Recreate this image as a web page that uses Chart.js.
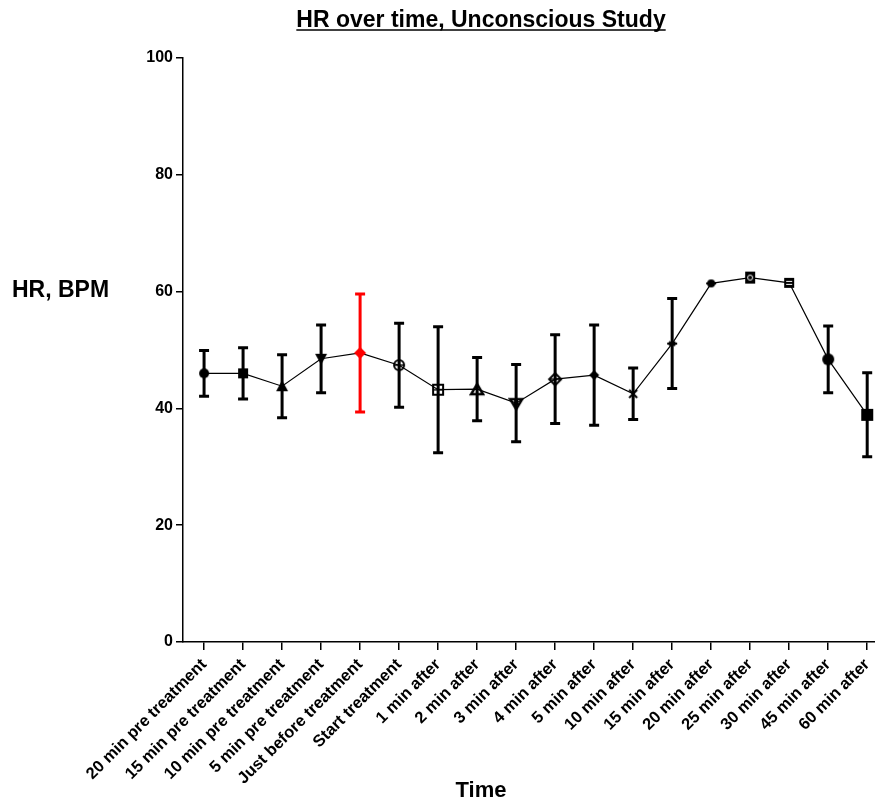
<!DOCTYPE html>
<html>
<head>
<meta charset="utf-8">
<script src="https://cdn.jsdelivr.net/npm/chart.js@4.4.1/dist/chart.umd.min.js"></script>
<style>
  html, body { margin: 0; padding: 0; background: #fff; }
  #wrap { width: 875px; height: 808px; position: relative; }
</style>
</head>
<body>
<div id="wrap"><canvas id="c" width="875" height="808"></canvas></div>
<script>
// ---- Data ----
const categories = [
  "20 min pre treatment", "15 min pre treatment", "10 min pre treatment",
  "5 min pre treatment", "Just before treatment", "Start treatment",
  "1 min after", "2 min after", "3 min after", "4 min after", "5 min after",
  "10 min after", "15 min after", "20 min after", "25 min after",
  "30 min after", "45 min after", "60 min after"
];
const hrMean = [46.0, 46.0, 43.8, 48.5, 49.5, 47.4, 43.2, 43.3, 40.9, 45.0, 45.7, 42.5, 51.1, 61.4, 62.4, 61.5, 48.4, 38.9];
const hrErr  = [ 3.9,  4.4,  5.4,  5.8, 10.1,  7.2, 10.8,  5.4,  6.6,  7.6,  8.6,  4.4,  7.7,  0.0,  0.9,  0.4,  5.7,  7.2];
const yTicks = [0, 20, 40, 60, 80, 100];
const markerKinds = [
  "circleFill", "squareFill", "triFill", "triDownFill", "diamondRed", "circlePlus",
  "squarePlus", "triOpen", "triDownOpen", "diamondPlus", "diamondSmall", "xCross",
  "star", "smallDot", "squareCircle", "squareLine", "circleBig", "squareBig"
];
const highlightIndex = 4;

// ---- Marker images ----
function makeMarker(kind) {
  const s = 16, c = s / 2;
  const cv = document.createElement('canvas');
  cv.width = s; cv.height = s;
  const g = cv.getContext('2d');
  const col = kind === 'diamondRed' ? '#ff0000' : '#000';
  g.fillStyle = col; g.strokeStyle = col; g.lineWidth = 2;
  const poly = (pts, fill) => {
    g.beginPath(); g.moveTo(pts[0][0], pts[0][1]);
    for (let i = 1; i < pts.length; i++) g.lineTo(pts[i][0], pts[i][1]);
    g.closePath(); fill ? g.fill() : g.stroke();
  };
  const plus = (r) => {
    g.beginPath(); g.moveTo(c - r, c); g.lineTo(c + r, c); g.moveTo(c, c - r); g.lineTo(c, c + r);
    g.lineWidth = 1.5; g.stroke(); g.lineWidth = 2;
  };
  switch (kind) {
    case 'circleFill': g.beginPath(); g.arc(c, c, 5, 0, 2 * Math.PI); g.fill(); break;
    case 'squareFill': g.fillRect(c - 5, c - 5, 10, 10); break;
    case 'triFill': poly([[c, c - 6], [c + 6, c + 5], [c - 6, c + 5]], true); break;
    case 'triDownFill': poly([[c, c + 6], [c + 6, c - 5], [c - 6, c - 5]], true); break;
    case 'diamondRed': poly([[c, c - 6], [c + 6, c], [c, c + 6], [c - 6, c]], true); break;
    case 'circlePlus': g.beginPath(); g.arc(c, c, 5, 0, 2 * Math.PI); g.stroke(); plus(5); break;
    case 'squarePlus': g.strokeRect(c - 5, c - 5, 10, 10); plus(5); break;
    case 'triOpen': g.lineWidth = 2.5; poly([[c, c - 5], [c + 6, c + 5], [c - 6, c + 5]], false); break;
    case 'triDownOpen': g.lineWidth = 2.5; poly([[c, c + 6], [c + 6, c - 4], [c - 6, c - 4]], false); g.fillRect(c - 2, c - 3, 4, 5); break;
    case 'diamondPlus': poly([[c, c - 6], [c + 6, c], [c, c + 6], [c - 6, c]], false); plus(5); break;
    case 'diamondSmall': poly([[c, c - 5], [c + 5, c], [c, c + 5], [c - 5, c]], true); break;
    case 'xCross': g.beginPath(); g.moveTo(c - 4, c - 4); g.lineTo(c + 4, c + 4); g.moveTo(c + 4, c - 4); g.lineTo(c - 4, c + 4); g.stroke(); break;
    case 'star':
      g.beginPath(); g.moveTo(c - 5, c); g.lineTo(c + 5, c); g.moveTo(c, c - 3); g.lineTo(c, c + 3);
      g.moveTo(c - 3, c - 2); g.lineTo(c + 3, c + 2); g.moveTo(c + 3, c - 2); g.lineTo(c - 3, c + 2); g.stroke(); break;
    case 'smallDot':
      g.beginPath(); g.arc(c, c, 4, 0, 2 * Math.PI); g.fill();
      g.beginPath(); g.moveTo(c - 5, c); g.lineTo(c + 5, c); g.stroke(); break;
    case 'squareCircle':
      g.fillRect(c - 5, c - 6, 10, 12);
      g.strokeStyle = '#fff'; g.lineWidth = 1; g.beginPath(); g.arc(c, c, 2.5, 0, 2 * Math.PI); g.stroke(); break;
    case 'squareLine':
      g.fillRect(c - 5, c - 5, 10, 10);
      g.strokeStyle = '#fff'; g.lineWidth = 1; g.beginPath(); g.moveTo(c - 3, c - 1.5); g.lineTo(c + 3, c - 1.5); g.moveTo(c - 3, c + 1.5); g.lineTo(c + 3, c + 1.5); g.stroke(); break;
    case 'circleBig': g.beginPath(); g.arc(c, c, 6, 0, 2 * Math.PI); g.fill(); break;
    case 'squareBig': g.fillRect(c - 6, c - 6, 12, 12); break;
  }
  return cv;
}
const markerImages = markerKinds.map(makeMarker);

// ---- Plugins ----
const errorBars = {
  id: 'errorBars',
  afterDatasetsDraw(chart) {
    const { ctx, scales: { x, y } } = chart;
    ctx.save();
    ctx.lineCap = 'butt';
    hrMean.forEach((m, i) => {
      const e = hrErr[i];
      if (e <= 0) return;
      const px = x.getPixelForValue(i);
      const yt = y.getPixelForValue(m + e);
      const yb = y.getPixelForValue(m - e);
      ctx.strokeStyle = i === highlightIndex ? '#ff0000' : '#000';
      ctx.lineWidth = 3;
      ctx.beginPath();
      ctx.moveTo(px, yt); ctx.lineTo(px, yb);
      if (e > 1.2) {
        ctx.moveTo(px - 5, yt); ctx.lineTo(px + 5, yt);
        ctx.moveTo(px - 5, yb); ctx.lineTo(px + 5, yb);
      }
      ctx.stroke();
    });
    const meta = chart.getDatasetMeta(0);
    meta.data.forEach((pt, i) => {
      const img = markerImages[i];
      ctx.drawImage(img, pt.x - img.width / 2, pt.y - img.height / 2);
    });
    ctx.restore();
  }
};

const textDecor = {
  id: 'textDecor',
  afterDraw(chart) {
    const ctx = chart.ctx;
    ctx.save();
    ctx.fillStyle = '#000';
    ctx.strokeStyle = '#000';
    ctx.font = 'bold 23px "Liberation Sans", Arial, sans-serif';
    ctx.textAlign = 'center';
    ctx.textBaseline = 'alphabetic';
    const title = 'HR over time, Unconscious Study';
    const tx = 481, ty = 27;
    ctx.fillText(title, tx, ty);
    const w = ctx.measureText(title).width;
    ctx.lineWidth = 1.5;
    ctx.beginPath(); ctx.moveTo(tx - w / 2, ty + 3); ctx.lineTo(tx + w / 2, ty + 3); ctx.stroke();
    ctx.font = 'bold 23px "Liberation Sans", Arial, sans-serif';
    ctx.textAlign = 'left';
    ctx.textBaseline = 'middle';
    ctx.fillText('HR, BPM', 12, 291);
    ctx.font = 'bold 22px "Liberation Sans", Arial, sans-serif';
    ctx.textAlign = 'center';
    ctx.fillText('Time', 481, 791);
    ctx.restore();
  }
};

// ---- Chart ----
new Chart(document.getElementById('c'), {
  type: 'line',
  data: {
    datasets: [{
      data: hrMean.map((v, i) => ({ x: i, y: v })),
      borderColor: '#000',
      borderWidth: 1.2,
      pointStyle: markerImages,
      pointRadius: 0,
      fill: false,
      tension: 0
    }]
  },
  options: {
    responsive: false,
    animation: false,
    events: [],
    layout: { padding: { top: 58, left: 0, right: 0, bottom: 0 } },
    plugins: { legend: { display: false }, tooltip: { enabled: false }, title: { display: false } },
    scales: {
      x: {
        type: 'linear',
        min: -0.54,
        max: 17.2,
        afterBuildTicks(scale) { scale.ticks = categories.map((_, i) => ({ value: i })); },
        afterFit(scale) { scale.height = 166; scale.paddingLeft = 0; scale.paddingRight = 0; },
        grid: { drawOnChartArea: false, drawTicks: true, tickLength: 8, color: '#000', lineWidth: 1.5 },
        border: { display: true, color: '#000', width: 1.5 },
        ticks: {
          autoSkip: false,
          minRotation: 45,
          maxRotation: 45,
          padding: 5,
          color: '#000',
          font: { family: '"Liberation Sans", Arial, sans-serif', size: 16.5, weight: 'bold' },
          callback: (v) => categories[v]
        }
      },
      y: {
        min: 0,
        max: 100,
        afterBuildTicks(scale) { scale.ticks = yTicks.map(v => ({ value: v })); },
        afterFit(scale) { scale.width = 183; },
        grid: { drawOnChartArea: false, drawTicks: true, tickLength: 7, color: '#000', lineWidth: 1.5 },
        border: { display: true, color: '#000', width: 1.5 },
        ticks: {
          padding: 3,
          color: '#000',
          font: { family: '"Liberation Sans", Arial, sans-serif', size: 16, weight: 'bold' }
        }
      }
    }
  },
  plugins: [errorBars, textDecor]
});
</script>
</body>
</html>
